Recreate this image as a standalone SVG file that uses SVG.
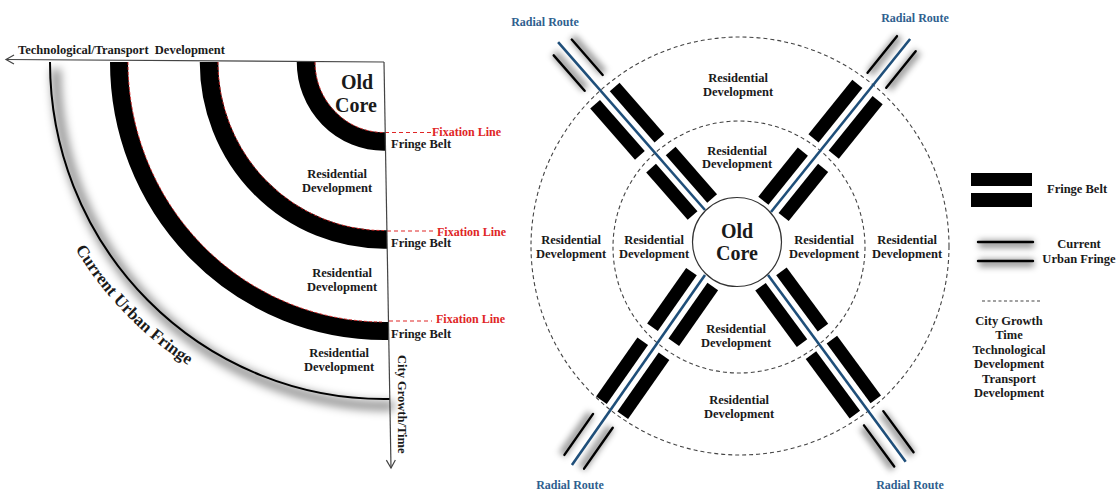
<svg xmlns="http://www.w3.org/2000/svg" width="1118" height="490" viewBox="0 0 1118 490">
<defs>
<style>
text{font-family:"Liberation Serif","Times New Roman",serif;font-weight:bold;fill:#1a1a1a}
.t{font-size:12.5px;text-anchor:middle}
.big{font-size:20px;text-anchor:middle}
.red{fill:#e02626;font-size:12px}
.blue{fill:#2f5f8f;font-size:12px;text-anchor:middle}
.belt{fill:none;stroke:#000}
.fixarc{fill:none;stroke:#e02626;stroke-width:0.9;stroke-dasharray:3 2}
.fix{fill:none;stroke:#e02626;stroke-width:1.2;stroke-dasharray:4 3}
.axis{fill:none;stroke:#444;stroke-width:1.2}
.dash{fill:none;stroke:#444;stroke-width:1.1;stroke-dasharray:4 3}
.fb{fill:#000}
.route{stroke:#1f4f7a;stroke-width:2.6}
.uf{stroke:#000;stroke-width:2.4;stroke-linecap:round}
.halo{fill:none;stroke:#000;stroke-opacity:0.4;stroke-width:8;filter:url(#blur)}
.shadow{fill:none;stroke:#000;stroke-opacity:0.45;stroke-width:9;filter:url(#blur5)}
</style>
<filter id="blur" filterUnits="userSpaceOnUse" x="-2000" y="-2000" width="5000" height="5000"><feGaussianBlur stdDeviation="3"/></filter>
<filter id="blur5" filterUnits="userSpaceOnUse" x="-2000" y="-2000" width="5000" height="5000"><feGaussianBlur stdDeviation="5"/></filter>
<marker id="arr" markerWidth="12" markerHeight="12" refX="9" refY="5" orient="auto" markerUnits="userSpaceOnUse"><path d="M1,0.5 L9,5 L1,9.5" fill="none" stroke="#444" stroke-width="1.2"/></marker>
</defs>
<rect width="1118" height="490" fill="#fff"/>

<g id="left-diagram">
  <g id="urban-fringe-arc">
    <path class="shadow" transform="translate(6,7)" d="M50,62 A334,337 0 0 0 384,399 h4"/>
    <rect x="0" y="0" width="384" height="60" fill="#fff"/>
    <path d="M50,62 A334,337 0 0 0 384,399 h6" fill="none" stroke="#000" stroke-width="2"/>
  </g>
  <g id="belts">
    <path class="belt" stroke-width="18.5" d="M306,62 A78,79.5 0 0 0 384,141.5 h1.5"/>
    <path class="belt" stroke-width="18.5" d="M209,62 A175,177.5 0 0 0 384,239.5 h3"/>
    <path class="belt" stroke-width="18" d="M119,62 A265,269 0 0 0 384,331 h4.5"/>
  </g>
  <g id="fixation-lines">
    <path class="fixarc" d="M315,62 A69,70.5 0 0 0 384,132.5"/>
    <path class="fixarc" d="M218,62 A166,168.5 0 0 0 384,230.5"/>
    <path class="fixarc" d="M128,62 A256,260 0 0 0 384,322"/>
    <path class="fix" d="M385,132.5 H431 M387,231 H434 M389,321 H432"/>
  </g>
  <g id="axes">
    <path class="axis" d="M384,62 L6,59.5" marker-end="url(#arr)"/>
    <path class="axis" d="M384,62 L391,468" marker-end="url(#arr)"/>
  </g>
  <g id="left-labels">
    <text x="18" y="54" style="font-size:12.5px" xml:space="preserve">Technological/Transport  Development</text>
    <text transform="translate(398,355) rotate(90)" style="font-size:12.5px">City Growth/Time</text>
    <text class="big" x="357" y="89">Old</text>
    <text class="big" x="356" y="111.5">Core</text>
    <text class="red" x="432" y="136">Fixation Line</text>
    <text class="red" x="437" y="236">Fixation Line</text>
    <text class="red" x="436" y="323">Fixation Line</text>
    <text x="391" y="148" style="font-size:12.5px">Fringe Belt</text>
    <text x="391" y="247" style="font-size:12.5px">Fringe Belt</text>
    <text x="391" y="338" style="font-size:12.5px">Fringe Belt</text>
    <text class="t" x="337" y="178">Residential</text>
    <text class="t" x="337" y="192">Development</text>
    <text class="t" x="342" y="277">Residential</text>
    <text class="t" x="342" y="291">Development</text>
    <text class="t" x="339" y="357">Residential</text>
    <text class="t" x="339" y="371">Development</text>
    <path id="cufPath" d="M75.2,249 A361,361 0 0 0 321.3,417.5" fill="none"/>
    <text style="font-size:17px"><textPath href="#cufPath">Current Urban Fringe</textPath></text>
  </g>
</g>

<g id="right-diagram">
  <g id="zones">
    <circle class="dash" cx="740" cy="246" r="209"/>
    <circle class="dash" cx="739" cy="247" r="126"/>
  </g>
  <g id="connectors">
    <g id="route-nw" transform="translate(705,210) rotate(-131.2)">
      <rect class="fb" x="4" y="6.5" width="63" height="13"/>
      <rect class="fb" x="4" y="-19.5" width="63" height="13"/>
      <rect class="fb" x="84" y="6.5" width="68" height="13"/>
      <rect class="fb" x="84" y="-19.5" width="68" height="13"/>
      <line class="halo" x1="170" y1="14" x2="217" y2="14"/>
      <line class="halo" x1="170" y1="-10" x2="217" y2="-10"/>
      <line class="uf" x1="169" y1="12" x2="216" y2="12"/>
      <line class="uf" x1="169" y1="-12" x2="216" y2="-12"/>
      <line class="route" x1="0" y1="0" x2="223" y2="0"/>
    </g>
    <g id="route-ne" transform="translate(771,212) rotate(-51.2)">
      <rect class="fb" x="4" y="6.5" width="63" height="13"/>
      <rect class="fb" x="4" y="-19.5" width="63" height="13"/>
      <rect class="fb" x="84" y="6.5" width="70" height="13"/>
      <rect class="fb" x="84" y="-19.5" width="70" height="13"/>
      <line class="halo" x1="170" y1="14" x2="217" y2="14"/>
      <line class="halo" x1="170" y1="-10" x2="217" y2="-10"/>
      <line class="uf" x1="169" y1="12" x2="216" y2="12"/>
      <line class="uf" x1="169" y1="-12" x2="216" y2="-12"/>
      <line class="route" x1="0" y1="0" x2="222" y2="0"/>
    </g>
    <g id="route-sw" transform="translate(705,275) rotate(125)">
      <rect class="fb" x="5" y="6.5" width="68" height="13"/>
      <rect class="fb" x="5" y="-19.5" width="68" height="13"/>
      <rect class="fb" x="90" y="6.5" width="72" height="13"/>
      <rect class="fb" x="90" y="-19.5" width="72" height="13"/>
      <line class="halo" x1="179" y1="14" x2="229" y2="14"/>
      <line class="halo" x1="179" y1="-10" x2="229" y2="-10"/>
      <line class="uf" x1="178" y1="12" x2="228" y2="12"/>
      <line class="uf" x1="178" y1="-12" x2="228" y2="-12"/>
      <line class="route" x1="0" y1="0" x2="232" y2="0"/>
    </g>
    <g id="route-se" transform="translate(768,275) rotate(53.6)">
      <rect class="fb" x="5" y="6.5" width="70" height="13"/>
      <rect class="fb" x="5" y="-19.5" width="70" height="13"/>
      <rect class="fb" x="90" y="6.5" width="74" height="13"/>
      <rect class="fb" x="90" y="-19.5" width="74" height="13"/>
      <line class="halo" x1="179" y1="14" x2="230" y2="14"/>
      <line class="halo" x1="179" y1="-10" x2="230" y2="-10"/>
      <line class="uf" x1="178" y1="12" x2="229" y2="12"/>
      <line class="uf" x1="178" y1="-12" x2="229" y2="-12"/>
      <line class="route" x1="0" y1="0" x2="232" y2="0"/>
    </g>
  </g>
  <g id="old-core">
    <circle cx="737" cy="242" r="44.5" fill="#fff" stroke="#333" stroke-width="1.2"/>
    <text class="big" x="737" y="238">Old</text>
    <text class="big" x="737" y="260">Core</text>
  </g>
  <g id="right-labels">
    <text class="blue" x="545" y="26">Radial Route</text>
    <text class="blue" x="915" y="22">Radial Route</text>
    <text class="blue" x="570" y="489">Radial Route</text>
    <text class="blue" x="910" y="489">Radial Route</text>
    <text class="t" x="738" y="82">Residential</text>
    <text class="t" x="738" y="96">Development</text>
    <text class="t" x="737" y="155">Residential</text>
    <text class="t" x="737" y="168">Development</text>
    <text class="t" x="571" y="244">Residential</text>
    <text class="t" x="571" y="258">Development</text>
    <text class="t" x="654" y="244">Residential</text>
    <text class="t" x="654" y="258">Development</text>
    <text class="t" x="824" y="244">Residential</text>
    <text class="t" x="824" y="258">Development</text>
    <text class="t" x="907" y="244">Residential</text>
    <text class="t" x="907" y="258">Development</text>
    <text class="t" x="736" y="333">Residential</text>
    <text class="t" x="736" y="347">Development</text>
    <text class="t" x="739" y="404">Residential</text>
    <text class="t" x="739" y="418">Development</text>
  </g>
</g>

<g id="legend">
  <rect class="fb" x="971" y="173" width="61" height="13"/>
  <rect class="fb" x="971" y="193" width="61" height="14"/>
  <text x="1047" y="193" style="font-size:12.5px">Fringe Belt</text>
  <line class="halo" x1="979" y1="244" x2="1034" y2="244"/>
  <line class="halo" x1="979" y1="263" x2="1034" y2="263"/>
  <line class="uf" x1="978" y1="242" x2="1033" y2="242"/>
  <line class="uf" x1="978" y1="261" x2="1033" y2="261"/>
  <text class="t" x="1079" y="248">Current</text>
  <text class="t" x="1079" y="263">Urban Fringe</text>
  <line class="dash" x1="982" y1="301" x2="1040" y2="301" style="stroke-dasharray:3 2.5"/>
  <text class="t" x="1009" y="325">City Growth</text>
  <text class="t" x="1009" y="339">Time</text>
  <text class="t" x="1009" y="354">Technological</text>
  <text class="t" x="1009" y="368">Development</text>
  <text class="t" x="1009" y="383">Transport</text>
  <text class="t" x="1009" y="397">Development</text>
</g>
</svg>
